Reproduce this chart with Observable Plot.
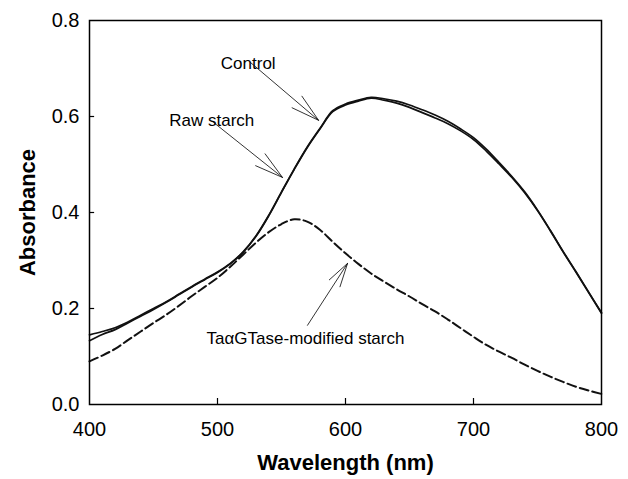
<!DOCTYPE html>
<html><head><meta charset="utf-8">
<script src="https://cdn.jsdelivr.net/npm/d3@7"></script>
<script src="https://cdn.jsdelivr.net/npm/@observablehq/plot@0.6"></script>
<style>body{margin:0;background:#fff;}</style>
</head><body><div id="chart"></div>
<script>
const wavelengths = [400,410,420,430,440,450,460,470,480,490,500,510,520,530,540,550,560,570,580,590,600,610,620,630,640,650,660,670,680,690,700,710,720,730,740,750,760,770,780,790,800];
const control   = [0.133,0.146,0.156,0.170,0.184,0.198,0.213,0.229,0.245,0.260,0.275,0.293,0.317,0.350,0.393,0.442,0.490,0.535,0.574,0.610,0.624,0.632,0.638,0.634,0.628,0.619,0.608,0.597,0.585,0.570,0.552,0.528,0.501,0.473,0.441,0.404,0.362,0.318,0.276,0.233,0.190];
const rawStarch = [0.145,0.152,0.160,0.172,0.186,0.200,0.214,0.230,0.246,0.261,0.276,0.294,0.318,0.351,0.394,0.443,0.491,0.536,0.575,0.612,0.626,0.634,0.640,0.637,0.632,0.624,0.614,0.603,0.590,0.574,0.556,0.532,0.504,0.475,0.443,0.405,0.363,0.319,0.277,0.234,0.191];
const modified  = [0.090,0.102,0.116,0.134,0.152,0.170,0.187,0.206,0.226,0.245,0.264,0.287,0.312,0.337,0.359,0.376,0.386,0.381,0.364,0.339,0.315,0.293,0.273,0.256,0.240,0.225,0.209,0.194,0.177,0.159,0.141,0.124,0.110,0.097,0.083,0.070,0.058,0.047,0.037,0.029,0.022];

const xTicks = [400,500,600,700,800];
const yTicks = [0,0.2,0.4,0.6,0.8];
const innerXTicks = [500,600,700];
const innerYTicks = [0.2,0.4,0.6];

const labelTexts = ["Control","Raw starch","Ta\u03b1GTase-modified starch"];
const labelX = [524,495.5,568.75];
const labelY = [0.711,0.592,0.1375];
const labelAnchor = ["end","end","middle"];
const arrowX1 = [525.8,497,570.3];
const arrowY1 = [0.7125,0.5875,0.165];
const arrowX2 = [579,550.8,601.6];
const arrowY2 = [0.592,0.473,0.294];

const series = (vals) => wavelengths.map((w,i)=>({x:w,y:vals[i]}));
const labels = labelTexts.map((t,i)=>({t,x:labelX[i],y:labelY[i],a:labelAnchor[i]}));
const arrows = arrowX1.map((_,i)=>({x1:arrowX1[i],y1:arrowY1[i],x2:arrowX2[i],y2:arrowY2[i]}));

const chart = Plot.plot({
  width: 628, height: 479,
  marginTop: 20, marginRight: 27, marginBottom: 75, marginLeft: 89,
  style: {fontFamily: "'Liberation Sans', Arial, sans-serif", fontSize: "20px", background: "#fff", color: "#000"},
  x: {domain: [400,800]},
  y: {domain: [0,0.8]},
  marks: [
    Plot.line(series(modified), {x:"x", y:"y", curve:"catmull-rom", stroke:"#111", strokeWidth:2, strokeDasharray:"9,4"}),
    Plot.line(series(control), {x:"x", y:"y", curve:"catmull-rom", stroke:"#111", strokeWidth:1.7}),
    Plot.line(series(rawStarch), {x:"x", y:"y", curve:"catmull-rom", stroke:"#111", strokeWidth:1.7}),
    Plot.ruleX(innerXTicks, {y1:0, y2:0.0125, stroke:"#000", strokeWidth:1.2}),
    Plot.ruleY(innerYTicks, {x1:400, x2:404, stroke:"#000", strokeWidth:1.2}),
    Plot.frame({stroke:"#000", strokeWidth:1.5}),
    Plot.axisX({ticks: xTicks, tickSize: 0, tickPadding: 17, fontSize: 20, label: null}),
    Plot.axisY({ticks: yTicks, tickSize: 0, tickPadding: 10, fontSize: 20, tickFormat: d3.format(".1f"), label: null}),
    Plot.arrow(arrows, {x1:"x1", y1:"y1", x2:"x2", y2:"y2", stroke:"#000", strokeWidth:0.8, headAngle:30, headLength:55}),
    Plot.text(labels, {x:"x", y:"y", text:"t", textAnchor: d=>d.a, fontSize:17, fill:"#000"}),
    Plot.text(["Wavelength (nm)"], {frameAnchor:"bottom", dy:58, text:d=>d, textAnchor:"middle", lineAnchor:"middle", fontWeight:"bold", fontSize:22, fill:"#000"}),
    Plot.text(["Absorbance"], {frameAnchor:"left", dx:-62, rotate:-90, text:d=>d, textAnchor:"middle", lineAnchor:"middle", fontWeight:"bold", fontSize:22, fill:"#000"})
  ]
});
document.getElementById("chart").appendChild(chart);
</script>
</body></html>
